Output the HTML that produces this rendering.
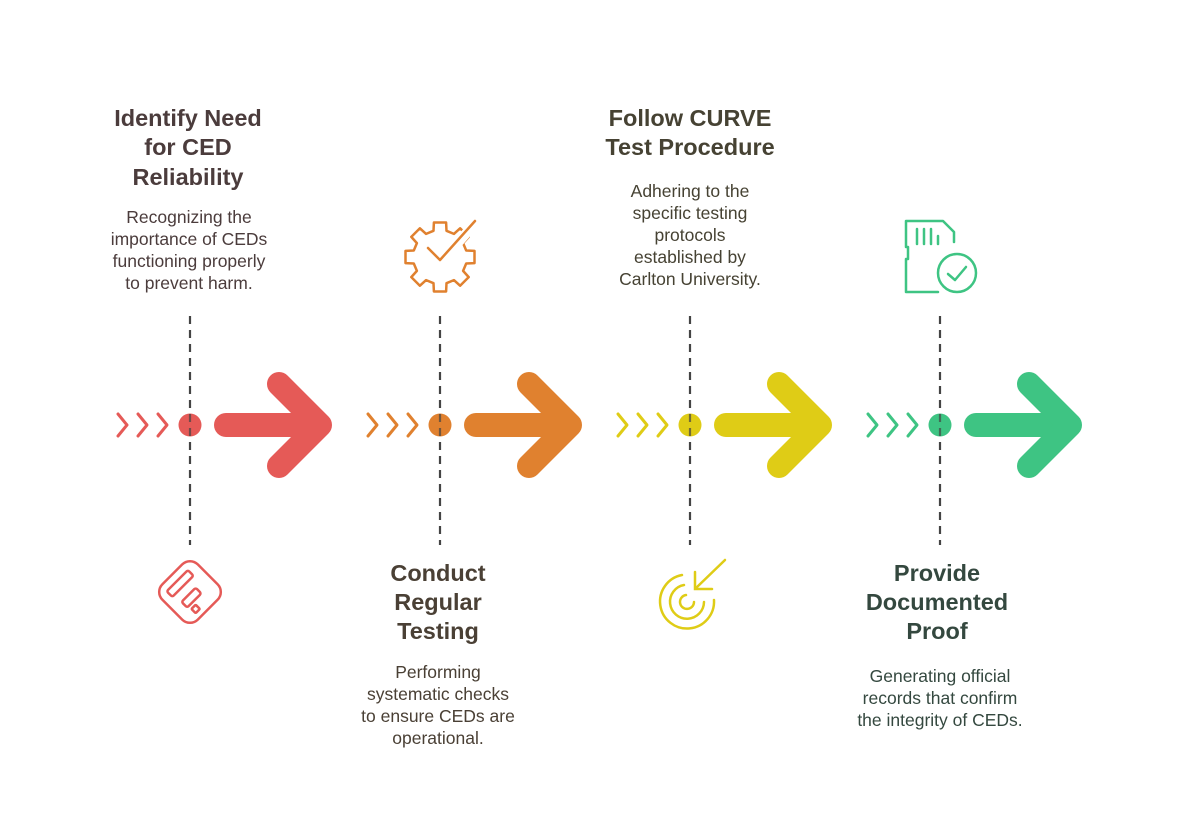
<!DOCTYPE html>
<html><head><meta charset="utf-8"><style>
body{margin:0;background:#fff;width:1200px;height:822px;overflow:hidden}
svg{display:block}
text{font-family:"Liberation Sans",Arial,sans-serif;text-anchor:middle}
.t{font-size:23.5px;font-weight:bold}
.d{font-size:17.5px}
</style></head><body>
<svg width="1200" height="822" viewBox="0 0 1200 822">
<g stroke="#444" stroke-width="2.2" stroke-dasharray="8,6">
<line x1="190" y1="316" x2="190" y2="545"/><line x1="440" y1="316" x2="440" y2="545"/>
<line x1="690" y1="316" x2="690" y2="545"/><line x1="940" y1="316" x2="940" y2="545"/>
</g>
<g fill="none" stroke-linecap="round" stroke-linejoin="round">
<g stroke="#E55A57" stroke-width="3"><polyline points="118,414 127,425 118,436"/><polyline points="138,414 147,425 138,436"/><polyline points="158,414 167,425 158,436"/></g>
<circle cx="190" cy="425" r="11.5" fill="#E55A57" stroke="none"/>
<g stroke="#E55A57" stroke-width="24"><line x1="226" y1="425" x2="318" y2="425"/><polyline points="279,384 320,425 279,466"/></g>
</g>
<g fill="none" stroke-linecap="round" stroke-linejoin="round">
<g stroke="#E0812F" stroke-width="3"><polyline points="368,414 377,425 368,436"/><polyline points="388,414 397,425 388,436"/><polyline points="408,414 417,425 408,436"/></g>
<circle cx="440" cy="425" r="11.5" fill="#E0812F" stroke="none"/>
<g stroke="#E0812F" stroke-width="24"><line x1="476" y1="425" x2="568" y2="425"/><polyline points="529,384 570,425 529,466"/></g>
</g>
<g fill="none" stroke-linecap="round" stroke-linejoin="round">
<g stroke="#DFCC16" stroke-width="3"><polyline points="618,414 627,425 618,436"/><polyline points="638,414 647,425 638,436"/><polyline points="658,414 667,425 658,436"/></g>
<circle cx="690" cy="425" r="11.5" fill="#DFCC16" stroke="none"/>
<g stroke="#DFCC16" stroke-width="24"><line x1="726" y1="425" x2="818" y2="425"/><polyline points="779,384 820,425 779,466"/></g>
</g>
<g fill="none" stroke-linecap="round" stroke-linejoin="round">
<g stroke="#3EC483" stroke-width="3"><polyline points="868,414 877,425 868,436"/><polyline points="888,414 897,425 888,436"/><polyline points="908,414 917,425 908,436"/></g>
<circle cx="940" cy="425" r="11.5" fill="#3EC483" stroke="none"/>
<g stroke="#3EC483" stroke-width="24"><line x1="976" y1="425" x2="1068" y2="425"/><polyline points="1029,384 1070,425 1029,466"/></g>
</g>
<g stroke="#444" stroke-width="2.2" stroke-dasharray="8,6" opacity="0.7">
<line x1="190" y1="414" x2="190" y2="437"/><line x1="440" y1="414" x2="440" y2="437"/><line x1="690" y1="414" x2="690" y2="437"/><line x1="940" y1="414" x2="940" y2="437"/>
</g>
<!-- red icon -->
<g fill="none" stroke="#E55A57" stroke-width="2.5" stroke-linejoin="round" stroke-linecap="round" transform="rotate(45 190 592)">
<rect x="165" y="567" width="50" height="50" rx="11"/>
<rect x="173" y="578" width="8" height="30" rx="2"/>
<rect x="191" y="595" width="8" height="20" rx="2" transform="translate(0,-10)"/>
<rect x="205" y="600" width="6" height="6" rx="1" transform="translate(-2,-3)"/>
</g>
<!-- gear -->
<g fill="none" stroke="#E0812F" stroke-width="2.5" stroke-linejoin="round" stroke-linecap="round">
<polygon points="433.5,230.8 433.9,222.5 446.1,222.5 446.5,230.8 453.9,233.9 460.1,228.3 468.7,236.9 463.1,243.1 466.2,250.5 474.5,250.9 474.5,263.1 466.2,263.5 463.1,270.9 468.7,277.1 460.1,285.7 453.9,280.1 446.5,283.2 446.1,291.5 433.9,291.5 433.5,283.2 426.1,280.1 419.9,285.7 411.3,277.1 416.9,270.9 413.8,263.5 405.5,263.1 405.5,250.9 413.8,250.5 416.9,243.1 411.3,236.9 419.9,228.3 426.1,233.9"/>
<line x1="448" y1="254" x2="476" y2="222" stroke="#fff" stroke-width="10" stroke-linecap="butt"/>
<polyline points="428,248 440,260 475,221"/>
</g>
<!-- target -->
<g fill="none" stroke="#DFCC16" stroke-width="2.5" stroke-linecap="round">
<path d="M682 575 A27 27 0 1 0 714 600"/>
<path d="M684 585 A17 17 0 1 0 704 602"/>
<path d="M686 595 A7 7 0 1 0 694 602"/>
<line x1="696" y1="588" x2="725" y2="560"/><polyline points="695,572 695,589 712,589"/>
</g>
<!-- sd card -->
<g fill="none" stroke="#3EC483" stroke-width="2.5" stroke-linejoin="round" stroke-linecap="round">
<path d="M938 292 h-32 v-33 h2 v-12 h-2 v-26 h37 l11 11 v10"/>
<line x1="917" y1="229" x2="917" y2="244"/><line x1="924" y1="229" x2="924" y2="244"/><line x1="931" y1="229" x2="931" y2="244"/><line x1="938" y1="236" x2="938" y2="244"/>
<circle cx="957" cy="273" r="19"/><polyline points="948,274 955,280 966,267"/>
</g>
<g fill="#4B3C3C">
<text class="t" x="188" y="126">Identify Need</text><text class="t" x="188" y="155">for CED</text><text class="t" x="188" y="185">Reliability</text>
<text class="d" x="189" y="223">Recognizing the</text><text class="d" x="189" y="245">importance of CEDs</text><text class="d" x="189" y="267">functioning properly</text><text class="d" x="189" y="289">to prevent harm.</text>
</g>
<g fill="#4A4035">
<text class="t" x="438" y="581">Conduct</text><text class="t" x="438" y="610">Regular</text><text class="t" x="438" y="639">Testing</text>
<text class="d" x="438" y="678">Performing</text><text class="d" x="438" y="700">systematic checks</text><text class="d" x="438" y="722">to ensure CEDs are</text><text class="d" x="438" y="744">operational.</text>
</g>
<g fill="#464233">
<text class="t" x="690" y="126">Follow CURVE</text><text class="t" x="690" y="155">Test Procedure</text>
<text class="d" x="690" y="197">Adhering to the</text><text class="d" x="690" y="219">specific testing</text><text class="d" x="690" y="241">protocols</text><text class="d" x="690" y="263">established by</text><text class="d" x="690" y="285">Carlton University.</text>
</g>
<g fill="#34483F">
<text class="t" x="937" y="581">Provide</text><text class="t" x="937" y="610">Documented</text><text class="t" x="937" y="639">Proof</text>
<text class="d" x="940" y="682">Generating official</text><text class="d" x="940" y="704">records that confirm</text><text class="d" x="940" y="726">the integrity of CEDs.</text>
</g>
</svg>
</body></html>
